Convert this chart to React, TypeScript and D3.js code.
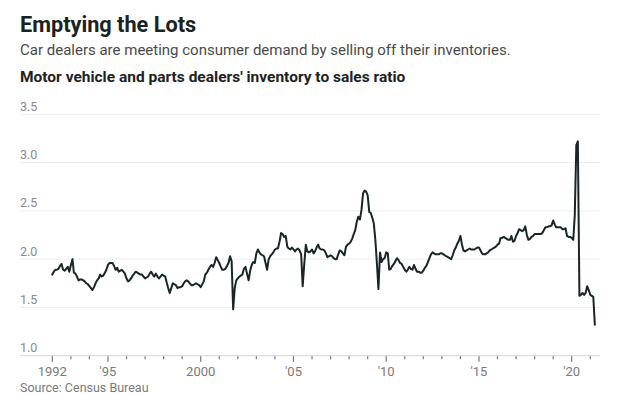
import * as d3 from 'd3';
import React from 'react';

// --------------------------------------------------------
// data: monthly inventory to sales ratio, Jan 1992 - Apr 2021
// --------------------------------------------------------
const startYear = 1992;

const ratio1990s = [
  1.84, 1.87, 1.89, 1.89, 1.90, 1.93, 1.95, 1.89, 1.88, 1.90, 1.92, 1.87, // 1992
  1.94, 2.00, 1.86, 1.85, 1.82, 1.78, 1.79, 1.79, 1.78, 1.77, 1.75, 1.74, // 1993
  1.72, 1.70, 1.68, 1.71, 1.75, 1.78, 1.80, 1.84, 1.82, 1.83, 1.86, 1.89, // 1994
  1.94, 1.96, 1.96, 1.96, 1.93, 1.89, 1.91, 1.87, 1.88, 1.89, 1.87, 1.85, // 1995
  1.80, 1.77, 1.78, 1.80, 1.83, 1.85, 1.87, 1.86, 1.85, 1.84, 1.84, 1.82, // 1996
  1.80, 1.81, 1.82, 1.85, 1.87, 1.84, 1.82, 1.85, 1.82, 1.80, 1.82, 1.84, // 1997
  1.83, 1.82, 1.76, 1.70, 1.65, 1.70, 1.75, 1.74, 1.73, 1.70, 1.71, 1.71, // 1998
  1.72, 1.75, 1.77, 1.78, 1.77, 1.75, 1.73, 1.73, 1.74, 1.75, 1.74, 1.73, // 1999
];

const ratio2000s = [
  1.71, 1.74, 1.77, 1.84, 1.86, 1.89, 1.92, 1.94, 1.92, 1.96, 2.02, 1.99, // 2000
  1.96, 1.92, 1.89, 1.89, 1.90, 1.93, 1.96, 2.03, 1.98, 1.48, 1.70, 1.78, // 2001
  1.80, 1.82, 1.83, 1.84, 1.90, 1.92, 1.85, 1.78, 1.88, 1.94, 1.97, 1.96, // 2002
  2.06, 2.10, 2.07, 2.05, 2.04, 2.03, 1.96, 1.89, 2.00, 2.03, 2.05, 2.07, // 2003
  2.10, 2.11, 2.11, 2.18, 2.27, 2.26, 2.23, 2.24, 2.13, 2.11, 2.10, 2.12, // 2004
  2.10, 2.08, 2.10, 2.11, 2.09, 2.05, 1.72, 1.95, 2.15, 2.08, 2.07, 2.08, // 2005
  2.10, 2.06, 2.08, 2.12, 2.15, 2.11, 2.10, 2.10, 2.09, 2.06, 2.02, 2.03, // 2006
  2.04, 2.03, 2.01, 2.00, 2.00, 2.05, 2.09, 2.08, 2.06, 2.04, 2.13, 2.15, // 2007
  2.16, 2.18, 2.21, 2.26, 2.30, 2.39, 2.44, 2.41, 2.51, 2.68, 2.71, 2.70, // 2008
  2.66, 2.49, 2.48, 2.43, 2.37, 2.20, 1.96, 1.69, 2.07, 1.97, 2.00, 2.01, // 2009
];

const ratio2010s = [
  2.07, 2.06, 1.89, 1.90, 1.93, 1.95, 1.98, 2.01, 1.99, 1.96, 1.95, 1.92, // 2010
  1.89, 1.87, 1.89, 1.92, 1.90, 1.89, 1.94, 1.90, 1.87, 1.87, 1.86, 1.86, // 2011
  1.88, 1.91, 1.93, 1.97, 2.01, 2.05, 2.07, 2.06, 2.05, 2.05, 2.05, 2.06, // 2012
  2.06, 2.05, 2.04, 2.03, 2.02, 2.01, 2.00, 2.04, 2.09, 2.12, 2.16, 2.19, // 2013
  2.24, 2.15, 2.09, 2.08, 2.09, 2.10, 2.11, 2.10, 2.10, 2.10, 2.11, 2.12, // 2014
  2.12, 2.09, 2.06, 2.05, 2.05, 2.06, 2.07, 2.09, 2.10, 2.11, 2.12, 2.13, // 2015
  2.15, 2.16, 2.22, 2.22, 2.23, 2.22, 2.21, 2.20, 2.20, 2.24, 2.18, 2.19, // 2016
  2.24, 2.27, 2.31, 2.30, 2.29, 2.30, 2.34, 2.25, 2.20, 2.21, 2.23, 2.24, // 2017
  2.26, 2.26, 2.26, 2.26, 2.26, 2.27, 2.30, 2.33, 2.33, 2.34, 2.34, 2.35, // 2018
  2.40, 2.36, 2.33, 2.33, 2.33, 2.33, 2.31, 2.31, 2.32, 2.24, 2.23, 2.23, // 2019
];

const ratio2020s = [
  2.22, 2.20, 2.45, 3.18, 3.22, 1.62, 1.63, 1.65, 1.63, 1.65, 1.72, 1.68, // 2020
  1.63, 1.62, 1.61, 1.32, // 2021
];

const yTicks = [1.0, 1.5, 2.0, 2.5, 3.0, 3.5];
const labelledYears = [1992, 1995, 2000, 2005, 2010, 2015, 2020];
const lastTickYear = 2021;

const series = [...ratio1990s, ...ratio2000s, ...ratio2010s, ...ratio2020s]
  .map((value, i) => ({ date: new Date(startYear, i, 1), value }));

// --------------------------------------------------------
// layout
// --------------------------------------------------------
const width = 631;
const height = 394;
const gridLeft = 20;
const gridRight = 600;

const x = d3.scaleTime()
  .domain([new Date(1992, 0, 1), new Date(2020, 0, 1)])
  .range([52.3, 571.7]);

const y = d3.scaleLinear()
  .domain([1.0, 3.5])
  .range([355.7, 114.3]);

const line = d3.line<{ date: Date; value: number }>()
  .x(d => x(d.date))
  .y(d => y(d.value));

const yearTicks = d3.timeYear.range(new Date(startYear, 0, 1), new Date(lastTickYear, 1, 1));

const yearLabel = (yr: number) => (yr === 1992 || yr === 2000) ? String(yr) : `'${String(yr).slice(2)}`;

const fontFamily = 'Roboto, "Noto Sans", sans-serif';

export default function App() {
  const baseY = y(1.0);

  return (
    <svg width={width} height={height}
      style={{ position: 'absolute', left: 0, top: 0, background: '#fff' }}
      fontFamily={fontFamily}>

      {/* heading */}
      <text x={20} y={31.5} fontSize={21.7} fontWeight={700} fill="#1b2222">Emptying the Lots</text>
      <text x={20} y={55} fontSize={15} fill="#4a4a4a">
        Car dealers are meeting consumer demand by selling off their inventories.
      </text>
      <text x={20} y={82.3} fontSize={15.5} fontWeight={700} fill="#222">
        Motor vehicle and parts dealers' inventory to sales ratio
      </text>

      {/* horizontal grid + y labels */}
      {yTicks.map(t => (
        <g key={t}>
          <line x1={gridLeft} x2={gridRight} y1={y(t)} y2={y(t)}
            stroke={t === 1.0 ? '#d6d6d6' : '#ececec'} strokeWidth={1} />
          <text x={gridLeft} y={y(t) - 3.6} fontSize={12.5} fill="#8a8a8a">{d3.format('.1f')(t)}</text>
        </g>
      ))}

      {/* x ticks */}
      {yearTicks.map(d => {
        const yr = d.getFullYear();
        const major = labelledYears.includes(yr);
        return (
          <g key={yr} transform={`translate(${x(d)},${baseY})`}>
            <line y1={0.5} y2={major ? 6 : 3.5} stroke="#777" strokeWidth={1.2} />
            {major && (
              <text y={20.5} textAnchor="middle" fontSize={13} fill="#7a7a7a">{yearLabel(yr)}</text>
            )}
          </g>
        );
      })}

      {/* series */}
      <path d={line(series) ?? ''} fill="none" stroke="#172626" strokeWidth={2}
        strokeLinejoin="round" strokeLinecap="round" />

      <text x={20} y={392} fontSize={12.5} fill="#7a7a7a">Source: Census Bureau</text>
    </svg>
  );
}
